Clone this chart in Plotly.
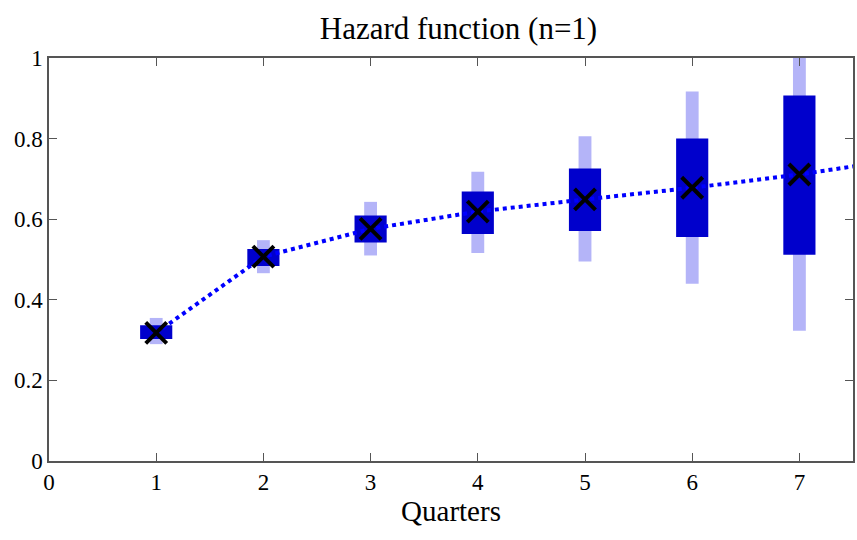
import plotly.graph_objects as go

quarters = [1, 2, 3, 4, 5, 6, 7]
median = [0.318, 0.507, 0.576, 0.619, 0.649, 0.678, 0.711]
inner_low = [0.303, 0.484, 0.542, 0.563, 0.571, 0.556, 0.512]
inner_high = [0.337, 0.526, 0.609, 0.669, 0.726, 0.800, 0.907]
outer_low = [0.290, 0.466, 0.510, 0.516, 0.495, 0.440, 0.323]
outer_high = [0.355, 0.548, 0.643, 0.718, 0.806, 0.917, 1.02]
line_x = [1, 2, 3, 4, 5, 6, 7, 8]
line_y = [0.318, 0.507, 0.576, 0.619, 0.649, 0.678, 0.711, 0.751]

fig = go.Figure()
fig.add_trace(go.Bar(
    x=quarters, y=[h - l for h, l in zip(outer_high, outer_low)], base=outer_low,
    width=0.12, marker=dict(color="#b4b4f8", line=dict(width=0)), showlegend=False))
fig.add_trace(go.Bar(
    x=quarters, y=[h - l for h, l in zip(inner_high, inner_low)], base=inner_low,
    width=0.3, marker=dict(color="#0000cc", line=dict(width=0)), showlegend=False))
fig.add_trace(go.Scatter(
    x=line_x, y=line_y, mode="lines",
    line=dict(color="#0000ff", width=4, dash="dot"), showlegend=False))
fig.add_trace(go.Scatter(
    x=quarters, y=median, mode="markers",
    marker=dict(symbol="x-thin", size=21, line=dict(color="black", width=4)),
    showlegend=False))

fig.update_layout(
    width=857, height=540, barmode="overlay",
    paper_bgcolor="white", plot_bgcolor="white",
    margin=dict(l=49, r=2, t=58, b=79),
    font=dict(family="Liberation Serif", color="black", size=23),
    title=dict(text="Hazard function (n=1)", x=0.535, xanchor="center",
               y=0.948, yanchor="middle", font=dict(size=31)),
    xaxis=dict(range=[0, 7.5], tickvals=[0, 1, 2, 3, 4, 5, 6, 7],
               ticks="inside", ticklen=8, tickcolor="#555", showgrid=False,
               zeroline=False, showline=True, linecolor="#555", linewidth=1.5,
               mirror="ticks", title=dict(text="Quarters", font=dict(size=29), standoff=4)),
    yaxis=dict(range=[0, 1], tickvals=[0, 0.2, 0.4, 0.6, 0.8, 1],
               ticktext=["0", "0.2", "0.4", "0.6", "0.8", "1"],
               ticks="inside", ticklen=8, tickcolor="#555", showgrid=False,
               zeroline=False, showline=True, linecolor="#555", linewidth=1.5,
               mirror="ticks"),
)
fig.write_html("out.html")
